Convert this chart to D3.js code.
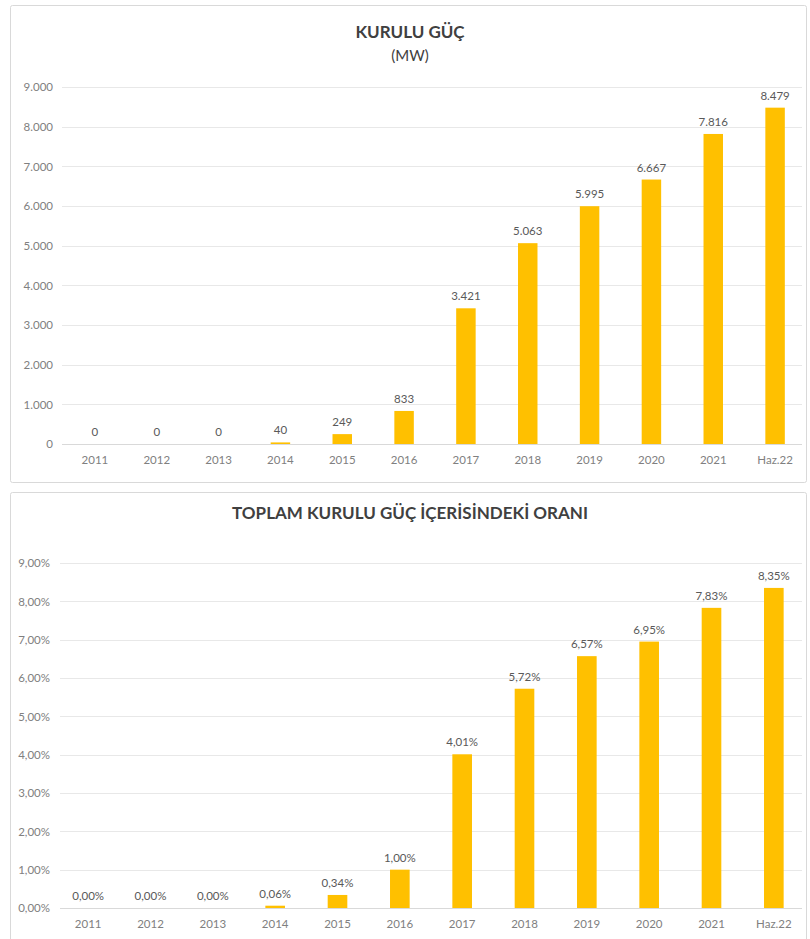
<!DOCTYPE html>
<html>
<head>
<meta charset="utf-8">
<script src="https://cdn.jsdelivr.net/npm/d3@7"></script>
<style>
  body { margin: 0; background: #fff; }
  svg { display: block; font-family: Lato, "Open Sans", sans-serif; }
</style>
</head>
<body>
<svg id="canvas" width="810" height="939"></svg>
<script>
/********** Data **********/
var categories = ["2011", "2012", "2013", "2014", "2015", "2016", "2017", "2018", "2019", "2020", "2021", "Haz.22"];
var capacityMW = [0, 0, 0, 40, 249, 833, 3421, 5063, 5995, 6667, 7816, 8479];
var sharePct = [0, 0, 0, 0.06, 0.34, 1.00, 4.01, 5.72, 6.57, 6.95, 7.83, 8.35];
var mwTicks = [0, 1000, 2000, 3000, 4000, 5000, 6000, 7000, 8000, 9000];
var pctTicks = [0, 1, 2, 3, 4, 5, 6, 7, 8, 9];

/********** Formatting (Turkish) **********/
var trLocale = d3.formatLocale({decimal: ",", thousands: ".", grouping: [3], currency: ["", "₺"]});
var fmtMW = trLocale.format(",.0f");
var fmtPct = function(v) { return trLocale.format(".2f")(v) + "%"; };

var svg = d3.select("#canvas");
var barColor = "#FFC000";

function drawPanel(cfg) {
  var g = svg.append("g");

  // panel frame
  g.append("rect")
    .attr("x", 10.5).attr("y", cfg.top + 0.5)
    .attr("width", 796).attr("height", cfg.height)
    .attr("rx", 2)
    .attr("fill", "#fff")
    .attr("stroke", "#d9d9d9");

  // titles
  cfg.titles.forEach(function(t) {
    g.append("text")
      .attr("x", 410).attr("y", t.y)
      .attr("text-anchor", "middle")
      .attr("font-size", t.size)
      .attr("font-weight", t.bold ? "bold" : "normal")
      .attr("fill", "#404040")
      .text(t.text);
  });

  var x = d3.scaleBand()
    .domain(categories)
    .range(cfg.xRange)
    .paddingInner(0.685)
    .paddingOuter(0.3425);

  var y = d3.scaleLinear()
    .domain([0, d3.max(cfg.ticks)])
    .range(cfg.yRange);

  // gridlines
  g.append("g")
    .selectAll("line")
    .data(cfg.ticks)
    .enter()
    .append("line")
    .attr("x1", cfg.gridX[0]).attr("x2", cfg.gridX[1])
    .attr("y1", function(d) { return Math.round(y(d)) + 0.5; })
    .attr("y2", function(d) { return Math.round(y(d)) + 0.5; })
    .attr("stroke", function(d) { return d === 0 ? "#d9d9d9" : "#e8e8e8"; })
    .attr("stroke-width", 1);

  // y axis labels
  var yAxis = d3.axisLeft(y)
    .tickValues(cfg.ticks)
    .tickSize(0)
    .tickPadding(0)
    .tickFormat(cfg.tickFormat);

  g.append("g")
    .attr("transform", "translate(" + cfg.yLabelX + ",0)")
    .call(yAxis)
    .call(function(a) { a.select(".domain").remove(); })
    .selectAll("text")
    .attr("font-family", "Lato, 'Open Sans', sans-serif")
    .attr("font-size", 11.5)
    .attr("fill", "#808080");

  // x axis labels
  var xAxis = d3.axisBottom(x).tickSize(0).tickPadding(0);
  g.append("g")
    .attr("transform", "translate(0," + (cfg.yRange[0] + 12) + ")")
    .call(xAxis)
    .call(function(a) { a.select(".domain").remove(); })
    .selectAll("text")
    .attr("font-family", "Lato, 'Open Sans', sans-serif")
    .attr("font-size", 11.5)
    .attr("fill", "#808080");

  // bars
  g.append("g")
    .selectAll("rect")
    .data(cfg.values)
    .enter()
    .append("rect")
    .attr("x", function(d, i) { return x(categories[i]); })
    .attr("width", x.bandwidth())
    .attr("y", function(d) { return y(d); })
    .attr("height", function(d) { return cfg.yRange[0] - y(d); })
    .attr("fill", barColor);

  // value labels
  g.append("g")
    .selectAll("text")
    .data(cfg.values)
    .enter()
    .append("text")
    .attr("x", function(d, i) { return x(categories[i]) + x.bandwidth() / 2; })
    .attr("y", function(d) { return y(d) - 8; })
    .attr("text-anchor", "middle")
    .attr("font-size", 11.5)
    .attr("fill", "#595959")
    .text(function(d) { return cfg.labelFormat(d); });
}

/********** Chart 1: KURULU GÜÇ **********/
drawPanel({
  top: 5,
  height: 477,
  titles: [
    {text: "KURULU GÜÇ", y: 38, size: 17, bold: true},
    {text: "(MW)", y: 61, size: 15, bold: false}
  ],
  xRange: [64, 806],
  yRange: [444, 87],
  gridX: [62, 802],
  yLabelX: 53,
  ticks: mwTicks,
  tickFormat: fmtMW,
  values: capacityMW,
  labelFormat: fmtMW
});

/********** Chart 2: TOPLAM KURULU GÜÇ İÇERİSİNDEKİ ORANI **********/
drawPanel({
  top: 492,
  height: 460,
  titles: [
    {text: "TOPLAM KURULU GÜÇ İÇERİSİNDEKİ ORANI", y: 519, size: 17, bold: true}
  ],
  xRange: [57, 805],
  yRange: [908, 563],
  gridX: [60, 802],
  yLabelX: 50,
  ticks: pctTicks,
  tickFormat: fmtPct,
  values: sharePct,
  labelFormat: fmtPct
});
</script>
</body>
</html>
